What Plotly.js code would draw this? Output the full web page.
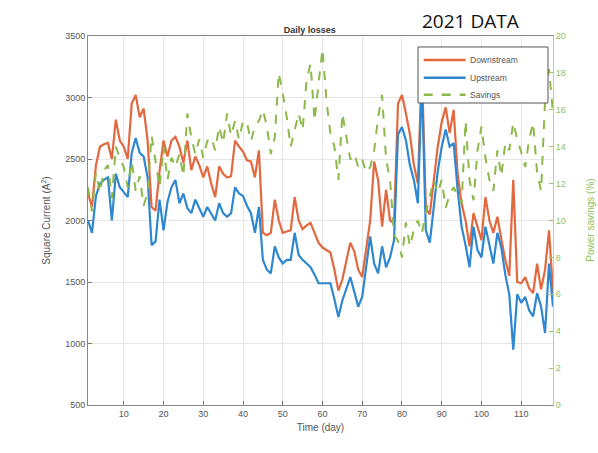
<!DOCTYPE html>
<html>
<head>
<meta charset="utf-8">
<script src="https://cdn.plot.ly/plotly-3.0.1.min.js"></script>
<style>html,body{margin:0;padding:0;background:#fff;}#chart{width:598px;height:453px;}</style>
</head>
<body>
<div id="chart"></div>
<script>
const days = Array.from({length: 118}, (_, i) => i + 1);

const downstream = [
  2220, 2110, 2450, 2600, 2620, 2630, 2500, 2820, 2650, 2600,
  2500, 2950, 3020, 2840, 2910, 2650, 2110, 2080, 2400, 2650,
  2520, 2650, 2680, 2600, 2470, 2650, 2410, 2520, 2450, 2350,
  2440, 2300, 2190, 2440, 2380, 2350, 2360, 2650, 2600, 2560,
  2490, 2480, 2350, 2570, 1900, 1880, 1900, 2170, 2000, 1900,
  1910, 1920, 2190, 2000, 1930, 1960, 1980, 1900, 1820, 1780,
  1760, 1740, 1600, 1430, 1520, 1680, 1820, 1750, 1600, 1540,
  1790, 2000, 2480, 2330, 1950, 2250, 2000, 1980, 2950, 3020,
  2870, 2700, 2450, 2300, 3250, 2100, 2050, 2330, 2600, 2800,
  2920, 2710, 2900, 2380, 2140, 2000, 1790, 2060, 1950, 1840,
  2190, 2000, 1900, 2030, 1850, 1680, 1550, 2330, 1500, 1490,
  1540, 1450, 1410, 1650, 1440, 1600, 1920, 1420
];

const upstream = [
  2000, 1900, 2200, 2300, 2330, 2350, 2000, 2380, 2270, 2230,
  2190, 2550, 2670, 2550, 2520, 2350, 1800, 1830, 2170, 1920,
  2150, 2270, 2330, 2140, 2220, 2100, 2060, 2170, 2100, 2030,
  2110, 2050, 2000, 2140, 2060, 2030, 2060, 2270, 2220, 2200,
  2120, 2060, 1900, 2110, 1680, 1600, 1570, 1790, 1700, 1650,
  1680, 1680, 1900, 1720, 1680, 1650, 1620, 1560, 1490, 1490,
  1490, 1490, 1360, 1215, 1350, 1450, 1540, 1420, 1300, 1380,
  1620, 1870, 1650, 1570, 1790, 1620, 1700, 1840, 2700, 2760,
  2650, 2450, 2330, 2140, 3150, 1920, 1820, 2100, 2400, 2600,
  2740, 2600, 2630, 2250, 1950, 1800, 1620, 1950, 1760, 1700,
  1950, 1800, 1650, 1900, 1780, 1560, 1400, 950, 1400, 1330,
  1380, 1270, 1220, 1410, 1300, 1085, 1650, 1300
];

const savings = [
  11.8, 10.5, 12.6, 11.5, 12.7, 13.0, 11.2, 14.0, 13.4, 12.9,
  11.8, 13.2, 11.6, 12.4, 10.8, 11.5, 14.6, 13.3, 11.8, 14.0,
  12.2, 13.4, 12.9, 13.6, 12.4, 15.8, 14.5, 13.6, 14.4, 13.4,
  14.3, 14.5, 13.8, 15.1, 14.2, 15.8, 14.6, 15.4, 14.4, 15.4,
  15.3, 14.3, 15.1, 15.4, 16.0, 15.1, 13.6, 14.5, 18.0, 16.9,
  15.6, 14.0, 14.9, 15.8, 14.9, 17.6, 18.5, 15.4, 17.4, 19.3,
  16.5, 14.7, 14.0, 12.2, 15.8, 14.5, 13.3, 13.6, 12.9, 13.3,
  12.6, 12.9, 13.8, 15.6, 16.8, 13.3, 12.2, 9.2, 8.9, 8.0,
  9.9, 8.6, 9.5, 10.0, 9.3, 10.4, 11.3, 12.2, 11.5, 12.2,
  10.7, 11.4, 11.8, 11.3, 10.9, 15.4, 12.2, 11.1, 13.8, 15.1,
  13.4, 12.2, 11.6, 13.8, 12.4, 14.2, 13.8, 15.3, 14.4, 13.7,
  12.9, 14.4, 15.3, 12.6, 11.6, 16.5, 18.2, 15.8
];

const seriesNames = ['Downstream', 'Upstream', 'Savings'];
const xTicks = [10, 20, 30, 40, 50, 60, 70, 80, 90, 100, 110];
const yTicks = [500, 1000, 1500, 2000, 2500, 3000, 3500];
const y2Ticks = [0, 2, 4, 6, 8, 10, 12, 14, 16, 18, 20];

const colors = ['#E2683F', '#2E87CF', '#8DB84A'];
const dashes = ['solid', 'solid', 'dash'];

const traces = [
  {x: days, y: downstream, name: seriesNames[0], type: 'scatter', mode: 'lines',
   line: {color: colors[0], width: 2.2}},
  {x: days, y: upstream, name: seriesNames[1], type: 'scatter', mode: 'lines',
   line: {color: colors[1], width: 2.2}},
  {x: days, y: savings, name: seriesNames[2], type: 'scatter', mode: 'lines', yaxis: 'y2',
   line: {color: colors[2], width: 2, dash: 'dash'}}
];

const fam = 'Liberation Sans, Arial, sans-serif';
const tickFont = {family: fam, size: 9, color: '#555'};

// custom legend box (paper coordinates)
const legX0 = 0.7097, legX1 = 0.9892, legY0 = 0.8184, legY1 = 0.9702;
const legRows = [0.935, 0.887, 0.841];
const shapes = [
  {type: 'rect', xref: 'paper', yref: 'paper', x0: legX0, x1: legX1, y0: legY0, y1: legY1,
   fillcolor: '#fff', line: {color: '#555', width: 1}, layer: 'above'}
];
const legendAnn = [];
seriesNames.forEach((n, i) => {
  shapes.push({type: 'line', xref: 'paper', yref: 'paper', x0: 0.722, x1: 0.812, y0: legRows[i], y1: legRows[i],
               line: {color: colors[i], width: 2.5, dash: dashes[i]}, layer: 'above'});
  legendAnn.push({text: n, xref: 'paper', yref: 'paper', x: 0.818, y: legRows[i], xanchor: 'left', yanchor: 'middle',
                  showarrow: false, font: {family: fam, size: 8.5, color: '#555'}});
});

const layout = {
  width: 598, height: 453,
  margin: {l: 88, r: 45, t: 36, b: 48},
  paper_bgcolor: '#fff', plot_bgcolor: '#fff',
  showlegend: false,
  title: {text: '<b>Daily losses</b>', x: 0.477, xref: 'paper', xanchor: 'center', y: 0.935, yanchor: 'middle',
          font: {family: fam, size: 9, color: '#333'}},
  xaxis: {
    range: [1, 118], tickvals: xTicks, ticks: 'inside', ticklen: 4, tickcolor: '#777',
    showgrid: true, gridcolor: '#e6e6e6', showline: true, linecolor: '#888', mirror: true,
    zeroline: false, tickfont: tickFont,
    title: {text: 'Time (day)', standoff: 6, font: {family: fam, size: 10, color: '#555'}}
  },
  yaxis: {
    range: [500, 3500], tickvals: yTicks, ticks: 'inside', ticklen: 4, tickcolor: '#777',
    showgrid: true, gridcolor: '#e6e6e6', showline: true, linecolor: '#888',
    zeroline: false, tickfont: tickFont,
    title: {text: 'Square Current (A<sup>2</sup>)', standoff: 12, font: {family: fam, size: 10, color: '#555'}}
  },
  yaxis2: {
    overlaying: 'y', side: 'right', range: [0, 20], tickvals: y2Ticks,
    ticks: 'inside', ticklen: 4, tickcolor: '#9cc46a',
    showgrid: false, showline: true, linecolor: '#b5d68c', zeroline: false,
    tickfont: {family: fam, size: 9, color: '#8fbf5a'}
  },
  shapes: shapes,
  annotations: [
    {text: '2021 DATA', xref: 'paper', yref: 'paper', x: 0.822, y: 1.042, xanchor: 'center', yanchor: 'middle',
     showarrow: false, font: {family: 'Open Sans, sans-serif', size: 19, color: '#111'}},
    {text: 'Power savings (%)', xref: 'paper', yref: 'paper', x: 1.08, xanchor: 'center', y: 0.5, yanchor: 'middle',
     textangle: -90, showarrow: false, font: {family: fam, size: 10, color: '#8fbf5a'}}
  ].concat(legendAnn)
};

Plotly.newPlot('chart', traces, layout, {displayModeBar: false, staticPlot: true});
</script>
</body>
</html>
